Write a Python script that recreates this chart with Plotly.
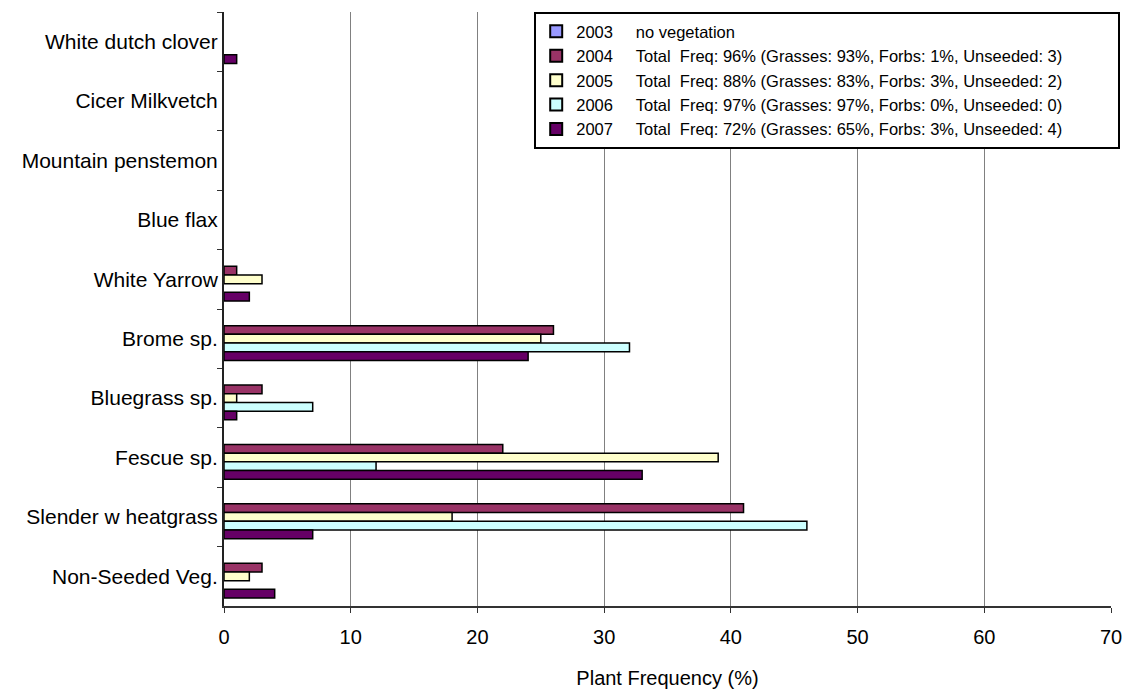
import plotly.graph_objects as go

# Species / vegetation classes, listed top to bottom
categories = [
    "White dutch clover",
    "Cicer Milkvetch",
    "Mountain penstemon",
    "Blue flax",
    "White Yarrow",
    "Brome sp.",
    "Bluegrass sp.",
    "Fescue sp.",
    "Slender w heatgrass",
    "Non-Seeded Veg.",
]

years = ["2003", "2004", "2005", "2006", "2007"]

freq_2003 = [0, 0, 0, 0, 0, 0, 0, 0, 0, 0]
freq_2004 = [0, 0, 0, 0, 1, 26, 3, 22, 41, 3]
freq_2005 = [0, 0, 0, 0, 3, 25, 1, 39, 18, 2]
freq_2006 = [0, 0, 0, 0, 0, 32, 7, 12, 46, 0]
freq_2007 = [1, 0, 0, 0, 2, 24, 1, 33, 7, 4]

summaries = [
    "no vegetation",
    "Total  Freq: 96% (Grasses: 93%, Forbs: 1%, Unseeded: 3)",
    "Total  Freq: 88% (Grasses: 83%, Forbs: 3%, Unseeded: 2)",
    "Total  Freq: 97% (Grasses: 97%, Forbs: 0%, Unseeded: 0)",
    "Total  Freq: 72% (Grasses: 65%, Forbs: 3%, Unseeded: 4)",
]

series = [freq_2003, freq_2004, freq_2005, freq_2006, freq_2007]
colors = ["#9999FF", "#993366", "#FFFFCC", "#CCFFFF", "#660066"]

FONT = "Liberation Sans, Arial, sans-serif"
NBSP = "\u00a0"

fig = go.Figure()
for year, vals, col, summ in zip(years, series, colors, summaries):
    # year and summary in one legend entry; trailing spaces widen the box
    label = year + NBSP * 5 + summ.replace("  ", NBSP + NBSP) + NBSP * 11
    # zero frequencies leave an empty slot (no outline drawn on the axis)
    shown = [v if v else None for v in vals]
    fig.add_trace(go.Bar(
        y=categories,
        x=shown,
        orientation="h",
        name=label,
        marker=dict(color=col, line=dict(color="black", width=1.5)),
    ))

plot_w = 1134 - 224 - 15

fig.update_layout(
    width=1134,
    height=698,
    margin=dict(l=224, r=15, t=12, b=88),
    paper_bgcolor="white",
    plot_bgcolor="white",
    barmode="group",
    bargap=0.267,
    bargroupgap=0,
    font=dict(family=FONT, size=20, color="black"),
    showlegend=True,
    legend=dict(
        x=(537 - 224) / plot_w,
        xref="paper",
        xanchor="left",
        y=1.0,
        yanchor="top",
        bgcolor="white",
        bordercolor="black",
        borderwidth=2,
        font=dict(family=FONT, size=16.5, color="black"),
        itemsizing="constant",
    ),
    xaxis=dict(
        range=[0, 70],
        dtick=10,
        tick0=0,
        showgrid=True,
        gridcolor="#808080",
        gridwidth=1,
        zeroline=False,
        showline=True,
        linecolor="#333333",
        linewidth=2,
        ticks="outside",
        ticklen=5,
        tickcolor="#333333",
        ticklabelstandoff=7,
        tickfont=dict(family=FONT, size=20),
        title=dict(text="Plant Frequency (%)", font=dict(family=FONT, size=20), standoff=24),
    ),
    yaxis=dict(
        autorange="reversed",
        showgrid=False,
        zeroline=False,
        showline=True,
        linecolor="#222222",
        linewidth=2,
        ticks="outside",
        ticklen=5,
        tickcolor="#333333",
        tickson="boundaries",
        tickfont=dict(family=FONT, size=21),
    ),
)

fig.write_html("out.html")
